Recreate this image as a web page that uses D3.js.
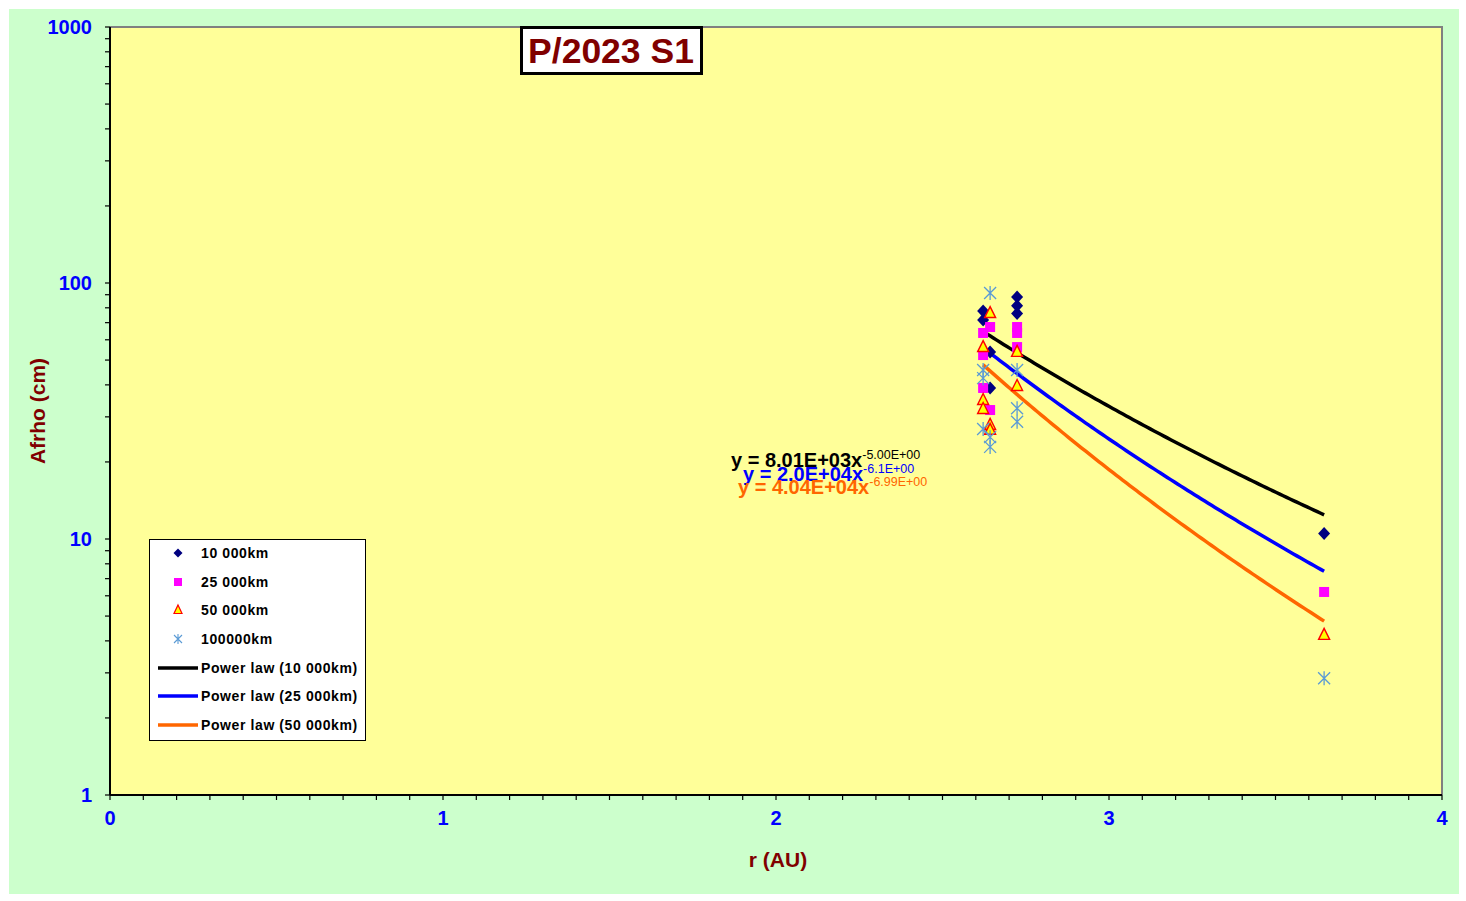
<!DOCTYPE html>
<html><head><meta charset="utf-8">
<script src="https://cdn.jsdelivr.net/npm/d3@7"></script>
<style>
html,body{margin:0;padding:0;background:#fff;}
text{font-family:"Liberation Sans",Arial,sans-serif;}
</style></head>
<body>
<svg id="chart" width="1466" height="901"></svg>
<script>
// ---- data ----
const title = "P/2023 S1";
const xTicks = [0, 1, 2, 3, 4];
const yTicks = [1, 10, 100, 1000];
const seriesNames = ["10 000km", "25 000km", "50 000km", "100000km"];
const r10k = [2.622, 2.622, 2.643, 2.643, 2.724, 2.724, 2.724, 3.646];
const a10k = [77.7, 71.7, 53.8, 38.9, 88.1, 81.5, 76.0, 10.5];
const r25k = [2.622, 2.622, 2.622, 2.643, 2.643, 2.724, 2.724, 2.724, 3.646];
const a25k = [63.8, 52.3, 38.9, 67.3, 31.9, 67.3, 63.8, 56.2, 6.21];
const r50k = [2.622, 2.622, 2.622, 2.643, 2.643, 2.643, 2.724, 2.724, 3.646];
const a50k = [56.2, 34.9, 32.2, 76.3, 27.9, 26.7, 53.8, 39.6, 4.22];
const r100k = [2.643, 2.622, 2.622, 2.622, 2.643, 2.643, 2.724, 2.724, 2.724, 3.646];
const a100k = [91.4, 45.7, 42.5, 26.9, 25.0, 22.9, 45.7, 32.4, 28.7, 2.86];
const fitNames = ["Power law (10 000km)", "Power law (25 000km)", "Power law (50 000km)"];
const fitCoef = [8.01e3, 2.0e4, 4.04e4];
const fitExp = [-5.00, -6.1, -6.99];
const fitLabelBase = ["y = 8.01E+03x", "y = 2.0E+04x", "y = 4.04E+04x"];
const fitLabelSup = ["-5.00E+00", "-6.1E+00", "-6.99E+00"];

// ---- layout ----
const svg = d3.select("#chart");
const L = 110, R = 1442, T = 27, B = 795;
const x = d3.scaleLinear().domain([0, 4]).range([L, R]);
const y = d3.scaleLog().domain([1, 1000]).range([B, T]);

svg.append("rect").attr("x", 9).attr("y", 9).attr("width", 1450).attr("height", 885).attr("fill", "#CCFFCC");
svg.append("rect").attr("x", L).attr("y", T).attr("width", R - L).attr("height", B - T).attr("fill", "#FFFF99");
svg.append("path").attr("d", `M${L},${T}H${R}V${B}`).attr("fill", "none").attr("stroke", "#808080").attr("stroke-width", 2);

const blue = "#0000FF", dred = "#800000";

// y axis
const yAxis = svg.append("g").attr("transform", `translate(${L},0)`);
const minor = [];
for (let d = 1; d < 1000; d *= 10) for (let k = 1; k <= 9; k++) minor.push(d * k);
minor.push(1000);
yAxis.selectAll("line.t").data(minor).join("line")
  .attr("x1", -5).attr("x2", 0).attr("y1", d => y(d)).attr("y2", d => y(d))
  .attr("stroke", "#000").attr("stroke-width", 1.2);
yAxis.append("line").attr("x1", 0).attr("x2", 0).attr("y1", T).attr("y2", B).attr("stroke", "#000").attr("stroke-width", 2);
yAxis.selectAll("text").data(yTicks).join("text")
  .attr("x", -18).attr("y", d => y(d)).attr("dy", "0.35em").attr("text-anchor", "end")
  .attr("fill", blue).attr("font-weight", "bold").attr("font-size", 20).text(d => d);

// x axis
const xAxis = svg.append("g").attr("transform", `translate(0,${B})`);
const xMinor = d3.range(0, 41).map(i => i / 10);
xAxis.selectAll("line.t").data(xMinor).join("line")
  .attr("x1", d => x(d)).attr("x2", d => x(d)).attr("y1", 0).attr("y2", 5)
  .attr("stroke", "#000").attr("stroke-width", 1.2);
xAxis.append("line").attr("x1", L).attr("x2", R).attr("y1", 0).attr("y2", 0).attr("stroke", "#000").attr("stroke-width", 2);
xAxis.selectAll("text").data(xTicks).join("text")
  .attr("x", d => x(d)).attr("y", 30).attr("text-anchor", "middle")
  .attr("fill", blue).attr("font-weight", "bold").attr("font-size", 20).text(d => d);

// axis titles
svg.append("text").attr("transform", "translate(45,411) rotate(-90)").attr("text-anchor", "middle")
  .attr("fill", dred).attr("font-weight", "bold").attr("font-size", 21).text("Afrho (cm)");
svg.append("text").attr("x", 778).attr("y", 867).attr("text-anchor", "middle")
  .attr("fill", dred).attr("font-weight", "bold").attr("font-size", 21).text("r (AU)");

// fit lines
const fitColors = ["#000000", "#0000FF", "#FF6600"];
const rMin = d3.min(r10k), rMax = d3.max(r10k);
const line = d3.line().x(d => x(d[0])).y(d => y(d[1]));
fitCoef.forEach((c, i) => {
  const pts = d3.range(0, 101).map(k => { const r = rMin + (rMax - rMin) * k / 100; return [r, c * Math.pow(r, fitExp[i])]; });
  svg.append("path").attr("d", line(pts)).attr("fill", "none").attr("stroke", fitColors[i]).attr("stroke-width", 3.5);
});

// markers
const sym = {
  diamond: (g, cx, cy) => g.append("path").attr("d", `M${cx},${cy-6.5}L${cx+6},${cy}L${cx},${cy+6.5}L${cx-6},${cy}Z`).attr("fill", "#000080"),
  square: (g, cx, cy) => g.append("rect").attr("x", cx-5).attr("y", cy-5).attr("width", 10).attr("height", 10).attr("fill", "#FF00FF"),
  triangle: (g, cx, cy) => g.append("path").attr("d", `M${cx},${cy-6.5}L${cx+5.5},${cy+4.5}L${cx-5.5},${cy+4.5}Z`).attr("fill", "#FFFF00").attr("stroke", "#FF0000").attr("stroke-width", 1.4),
  star: (g, cx, cy) => {
    const p = `M${cx-6},${cy-6}L${cx+6},${cy+6}M${cx-6},${cy+6}L${cx+6},${cy-6}M${cx},${cy-7}L${cx},${cy+7}`;
    g.append("path").attr("d", p).attr("stroke", "#5B9BD5").attr("stroke-width", 1.3).attr("fill", "none");
  }
};
const series = [[r10k, a10k, "diamond"], [r25k, a25k, "square"], [r50k, a50k, "triangle"], [r100k, a100k, "star"]];
const mg = svg.append("g");
series.forEach(([rs, as, s]) => rs.forEach((r, i) => sym[s](mg, x(r), y(as[i]))));

// fit equation labels
const eqPos = [[731, 467], [743, 481], [738, 494]];
fitLabelBase.forEach((t, i) => {
  const tx = svg.append("text").attr("x", eqPos[i][0]).attr("y", eqPos[i][1])
    .attr("fill", fitColors[i]).attr("font-weight", "bold").attr("font-size", 20);
  tx.append("tspan").text(t);
  tx.append("tspan").attr("dy", -8).attr("font-size", 12.5).attr("font-weight", "normal").text(fitLabelSup[i]);
});

// title box
svg.append("rect").attr("x", 521.5).attr("y", 27.5).attr("width", 180).attr("height", 46).attr("fill", "#fff").attr("stroke", "#000").attr("stroke-width", 3);
svg.append("text").attr("x", 611).attr("y", 63).attr("text-anchor", "middle").attr("fill", dred)
  .attr("font-weight", "bold").attr("font-size", 35.5).text(title);

// legend
const lg = svg.append("g");
lg.append("rect").attr("x", 149.5).attr("y", 539.5).attr("width", 216).attr("height", 201).attr("fill", "#fff").attr("stroke", "#000").attr("stroke-width", 1);
const rowsY = [553, 582, 610, 639, 668, 696, 725];
["diamond", "square", "triangle", "star"].forEach((s, i) => {
  const g = lg.append("g");
  if (s === "diamond") g.append("path").attr("d", `M178,${rowsY[i]-4.5}L182.5,${rowsY[i]}L178,${rowsY[i]+4.5}L173.5,${rowsY[i]}Z`).attr("fill", "#000080");
  else if (s === "square") g.append("rect").attr("x", 174).attr("y", rowsY[i]-4).attr("width", 8).attr("height", 8).attr("fill", "#FF00FF");
  else if (s === "triangle") g.append("path").attr("d", `M178,${rowsY[i]-5}L182,${rowsY[i]+3.5}L174,${rowsY[i]+3.5}Z`).attr("fill", "#FFFF00").attr("stroke", "#FF0000").attr("stroke-width", 1.2);
  else g.append("path").attr("d", `M174,${rowsY[i]-4}L182,${rowsY[i]+4}M174,${rowsY[i]+4}L182,${rowsY[i]-4}M178,${rowsY[i]-5}L178,${rowsY[i]+5}`).attr("stroke", "#5B9BD5").attr("stroke-width", 1.1);
  lg.append("text").attr("x", 201).attr("y", rowsY[i]).attr("dy", "0.35em").attr("font-size", 14).attr("letter-spacing", 0.6).attr("font-weight", "bold").text(seriesNames[i]);
});
fitNames.forEach((n, i) => {
  const yy = rowsY[4 + i];
  lg.append("line").attr("x1", 158).attr("x2", 198).attr("y1", yy).attr("y2", yy).attr("stroke", fitColors[i]).attr("stroke-width", 3.5);
  lg.append("text").attr("x", 201).attr("y", yy).attr("dy", "0.35em").attr("font-size", 14).attr("letter-spacing", 0.6).attr("font-weight", "bold").text(n);
});
</script>
</body></html>
